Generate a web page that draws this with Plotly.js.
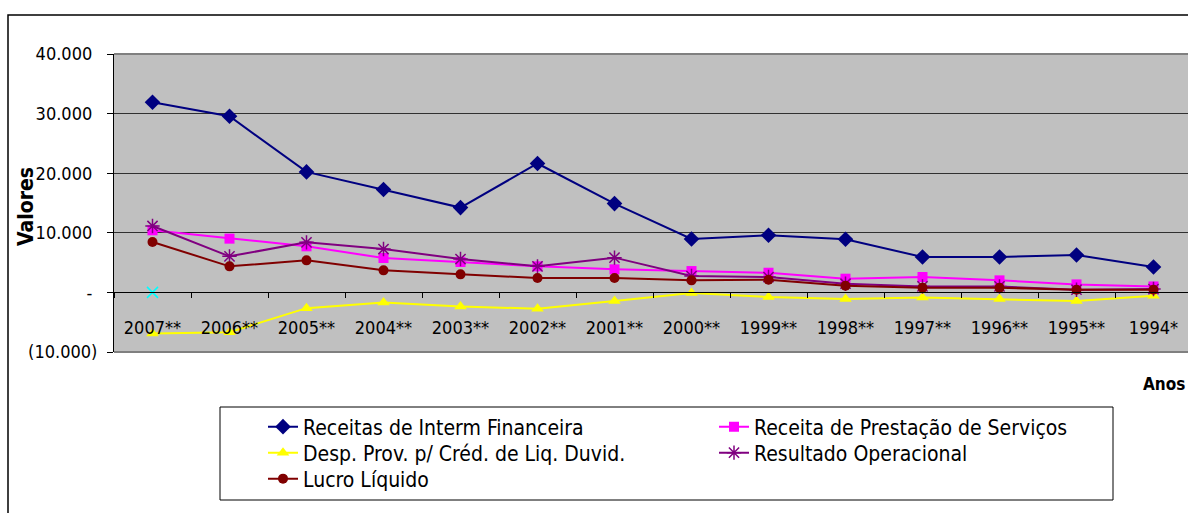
<!DOCTYPE html>
<html>
<head>
<meta charset="utf-8">
<script src="https://cdn.plot.ly/plotly-3.0.1.min.js"></script>
<style>html,body{margin:0;padding:0;background:#fff}#chart{width:1188px;height:513px}</style>
</head>
<body>
<div id="chart"></div>
<script>
const categories = ['2007**','2006**','2005**','2004**','2003**','2002**','2001**','2000**','1999**','1998**','1997**','1996**','1995**','1994*'];
const receitasInterm = [31900, 29550, 20220, 17260, 14230, 21630, 14900, 8960, 9580, 8910, 5940, 5940, 6270, 4250];
const receitaServicos = [10420, 9020, 7730, 5770, 5100, 4370, 3870, 3580, 3300, 2300, 2580, 2020, 1340, 1000];
const despProv = [-6900, -6670, -2640, -1680, -2350, -2740, -1460, -100, -790, -1120, -840, -1120, -1460, -560];
const resultadoOper = [11150, 6050, 8400, 7280, 5600, 4370, 5830, 2740, 2580, 1460, 1000, 1000, 450, 560];
const lucroLiquido = [8460, 4370, 5380, 3700, 3030, 2410, 2410, 2020, 2130, 1120, 790, 790, 450, 450];
const extraCategory = ['2007**'];
const extraValue = [0];
const yTickVals = [-10000, 0, 10000, 20000, 30000, 40000];
const yTickText = ['(10.000)', '-\u00a0', '10.000\u00a0', '20.000\u00a0', '30.000\u00a0', '40.000\u00a0'];

const FONT = '"Liberation Sans Narrow", "Arial Narrow", "DejaVu Sans Condensed", sans-serif';

// pixel helpers for the paper coordinate system (plot area: x 114..1188, y 54..352)
const L = 114, T = 54, W = 1074, H = 298;
const px = v => (v - L) / W;
const py = v => (T + H - v) / H;

const traces = [
  {name: 'Receitas de Interm Financeira', x: categories, y: receitasInterm, type: 'scatter', mode: 'lines+markers', legend: 'legend',
   line: {color: '#000080', width: 2}, marker: {symbol: 'diamond', size: 12, color: '#000080'}},
  {name: 'Receita de Prestação de Serviços', x: categories, y: receitaServicos, type: 'scatter', mode: 'lines+markers', legend: 'legend2',
   line: {color: '#FF00FF', width: 2}, marker: {symbol: 'square', size: 10, color: '#FF00FF'}},
  {name: 'Desp. Prov. p/ Créd. de Liq. Duvid.', x: categories, y: despProv, type: 'scatter', mode: 'lines+markers', legend: 'legend3',
   line: {color: '#FFFF00', width: 2}, marker: {symbol: 'triangle-up', size: 11, color: '#FFFF00'}},
  {name: 'Resultado Operacional', x: categories, y: resultadoOper, type: 'scatter', mode: 'lines+markers', legend: 'legend4',
   line: {color: '#800080', width: 2}, marker: {symbol: 'asterisk-open', size: 12, color: '#800080', line: {color: '#800080', width: 1.5}}},
  {name: 'Lucro Líquido', x: categories, y: lucroLiquido, type: 'scatter', mode: 'lines+markers', legend: 'legend5',
   line: {color: '#800000', width: 2}, marker: {symbol: 'circle', size: 10, color: '#800000'}},
  {name: '', x: extraCategory, y: extraValue, type: 'scatter', mode: 'markers', showlegend: false,
   marker: {symbol: 'x-thin-open', size: 11, color: '#00FFFF', line: {color: '#00FFFF', width: 1.5}}}
];

function leg(xPix, yPix) {
  return {orientation: 'v', x: px(xPix), y: py(yPix), xanchor: 'left', yanchor: 'middle',
    bgcolor: 'rgba(0,0,0,0)', borderwidth: 0, itemclick: false,
    font: {family: FONT, size: 21, color: '#000'}};
}

const layout = {
  width: 1188, height: 513,
  margin: {l: L, r: 0, t: T, b: 513 - T - H, autoexpand: false},
  paper_bgcolor: '#ffffff', plot_bgcolor: '#C0C0C0',
  font: {family: FONT, size: 18, color: '#000'},
  showlegend: true,
  xaxis: {
    type: 'category', range: [-0.5, 13.448], anchor: 'free', position: 0.2,
    showline: true, linecolor: '#000', linewidth: 1,
    ticks: 'outside', tickson: 'boundaries', ticklen: 5, tickcolor: '#000', tickwidth: 1,
    ticklabelstandoff: 19, showgrid: false, zeroline: false,
    tickfont: {family: FONT, size: 18, color: '#000'}, fixedrange: true
  },
  yaxis: {
    range: [-10000, 40000], tickvals: yTickVals, ticktext: yTickText,
    showline: true, linecolor: '#000', linewidth: 1,
    ticks: 'outside', ticklen: 6, tickcolor: '#000', ticklabelstandoff: 6,
    showgrid: true, gridcolor: '#303030', gridwidth: 1, zeroline: false,
    tickfont: {family: FONT, size: 18, color: '#000'}
  },
  legend: leg(263, 427),
  legend2: leg(714, 427),
  legend3: leg(263, 453),
  legend4: leg(714, 453),
  legend5: leg(263, 479),
  annotations: [
    {text: 'Valores', xref: 'paper', yref: 'paper', x: px(26), y: py(207), textangle: -90,
     xanchor: 'center', yanchor: 'middle', showarrow: false,
     font: {family: FONT, size: 21, color: '#000', weight: 'bold'}},
    {text: 'Anos', xref: 'paper', yref: 'paper', x: px(1164), y: py(384),
     xanchor: 'center', yanchor: 'middle', showarrow: false,
     font: {family: FONT, size: 17, color: '#000', weight: 'bold'}}
  ],
  shapes: [
    {type: 'line', xref: 'paper', yref: 'paper', x0: 0, x1: 1.01, y0: 1, y1: 1, line: {color: '#808080', width: 2}},
    {type: 'line', xref: 'paper', yref: 'paper', x0: 0, x1: 1.01, y0: 0, y1: 0, line: {color: '#808080', width: 2}},
    {type: 'rect', xref: 'paper', yref: 'paper', x0: px(8), x1: 1.05, y0: py(15), y1: py(560),
     line: {color: '#000', width: 1.5}, fillcolor: 'rgba(0,0,0,0)'},
    {type: 'rect', xref: 'paper', yref: 'paper', x0: px(220), x1: px(1113), y0: py(407), y1: py(500),
     line: {color: '#000', width: 1}, fillcolor: 'rgba(0,0,0,0)'}
  ]
};

Plotly.newPlot('chart', traces, layout, {displayModeBar: false, staticPlot: true});
</script>
</body>
</html>
